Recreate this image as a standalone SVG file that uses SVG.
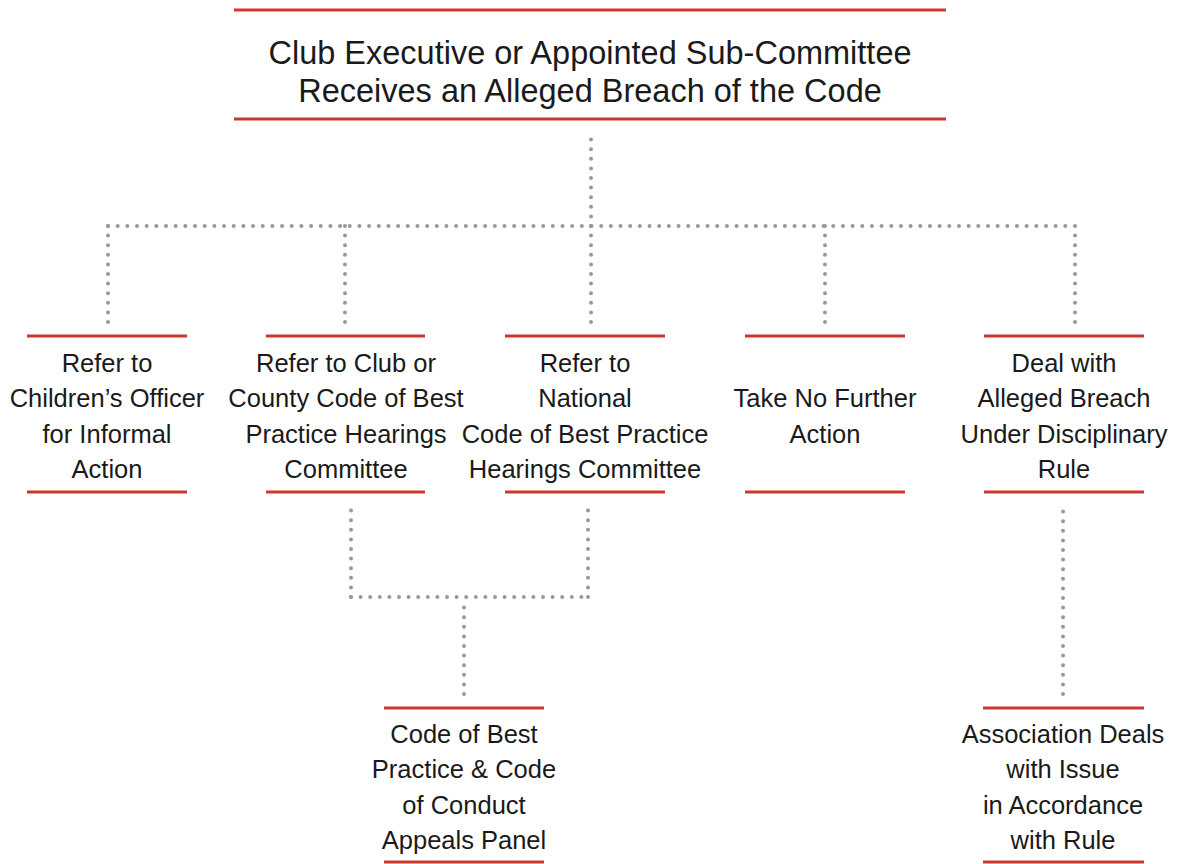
<svg xmlns="http://www.w3.org/2000/svg" width="1186" height="864" viewBox="0 0 1186 864">
<style>
.bar{stroke:#c9372e;stroke-width:3;fill:none}
.dot{stroke:#999999;stroke-width:4;fill:none;stroke-linecap:round;stroke-dasharray:0 9.6}
.t{font-family:"Liberation Sans",Arial,sans-serif;font-size:25.5px;fill:#1a1a1a;text-anchor:middle}
.h{font-size:32.5px}
</style>
<rect width="1186" height="864" fill="#ffffff"/>
<g id="connectors">
<path class="dot" d="M591 226 V134"/>
<path class="dot" d="M108 226 H1075" style="stroke-dasharray:0 9.67"/>
<path class="dot" d="M108 226 V322.5"/>
<path class="dot" d="M345 226 V322.5"/>
<path class="dot" d="M591 226 V322.5"/>
<path class="dot" d="M825 226 V322.5"/>
<path class="dot" d="M1075 226 V322.5"/>
<path class="dot" d="M351 597 V503"/>
<path class="dot" d="M351 597 H588"/>
<path class="dot" d="M588 597 V503"/>
<path class="dot" d="M464 694 V607"/>
<path class="dot" d="M1063 694 V504"/>
</g>
<g id="top">
<line class="bar" x1="234" y1="10" x2="946" y2="10"/>
<line class="bar" x1="234" y1="119" x2="946" y2="119"/>
<text class="t h" x="590" y="64">Club Executive or Appointed Sub-Committee</text>
<text class="t h" x="590" y="102">Receives an Alleged Breach of the Code</text>
</g>
<g id="n1">
<line class="bar" x1="27" y1="336" x2="187" y2="336"/>
<line class="bar" x1="27" y1="492" x2="187" y2="492"/>
<text class="t" x="107" y="372">Refer to</text>
<text class="t" x="107" y="407">Children’s Officer</text>
<text class="t" x="107" y="443">for Informal</text>
<text class="t" x="107" y="478">Action</text>
</g>
<g id="n2">
<line class="bar" x1="266" y1="336" x2="425" y2="336"/>
<line class="bar" x1="266" y1="492" x2="425" y2="492"/>
<text class="t" x="346" y="372">Refer to Club or</text>
<text class="t" x="346" y="407">County Code of Best</text>
<text class="t" x="346" y="443">Practice Hearings</text>
<text class="t" x="346" y="478">Committee</text>
</g>
<g id="n3">
<line class="bar" x1="505" y1="336" x2="665" y2="336"/>
<line class="bar" x1="505" y1="492" x2="665" y2="492"/>
<text class="t" x="585" y="372">Refer to</text>
<text class="t" x="585" y="407">National</text>
<text class="t" x="585" y="443">Code of Best Practice</text>
<text class="t" x="585" y="478">Hearings Committee</text>
</g>
<g id="n4">
<line class="bar" x1="745" y1="336" x2="905" y2="336"/>
<line class="bar" x1="745" y1="492" x2="905" y2="492"/>
<text class="t" x="825" y="407">Take No Further</text>
<text class="t" x="825" y="443">Action</text>
</g>
<g id="n5">
<line class="bar" x1="984" y1="336" x2="1144" y2="336"/>
<line class="bar" x1="984" y1="492" x2="1144" y2="492"/>
<text class="t" x="1064" y="372">Deal with</text>
<text class="t" x="1064" y="407">Alleged Breach</text>
<text class="t" x="1064" y="443">Under Disciplinary</text>
<text class="t" x="1064" y="478">Rule</text>
</g>
<g id="n6">
<line class="bar" x1="384" y1="708" x2="544" y2="708"/>
<line class="bar" x1="384" y1="862" x2="544" y2="862"/>
<text class="t" x="464" y="743">Code of Best</text>
<text class="t" x="464" y="778">Practice &amp; Code</text>
<text class="t" x="464" y="814">of Conduct</text>
<text class="t" x="464" y="849">Appeals Panel</text>
</g>
<g id="n7">
<line class="bar" x1="983" y1="708" x2="1144" y2="708"/>
<line class="bar" x1="983" y1="862" x2="1144" y2="862"/>
<text class="t" x="1063" y="743">Association Deals</text>
<text class="t" x="1063" y="778">with Issue</text>
<text class="t" x="1063" y="814">in Accordance</text>
<text class="t" x="1063" y="849">with Rule</text>
</g>
</svg>
